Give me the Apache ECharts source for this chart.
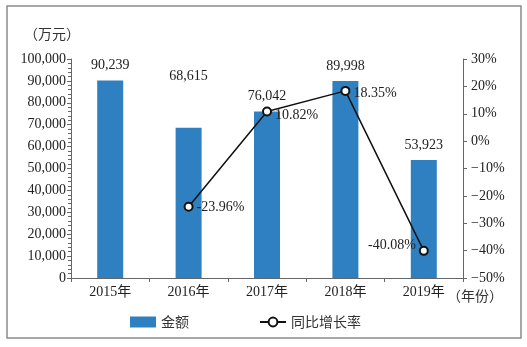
<!DOCTYPE html>
<html><head><meta charset="utf-8">
<script src="https://cdn.jsdelivr.net/npm/echarts@6/dist/echarts.min.js"></script>
<style>html,body{margin:0;padding:0;background:#fff}#c{width:527px;height:347px}</style>
</head><body><div id="c"></div>
<script>
const categories = ['2015年','2016年','2017年','2018年','2019年'];
const amounts = [90239, 68615, 76042, 89998, 53923];
const growth = [null, -23.96, 10.82, 18.35, -40.08];
const leftTicks = {min: 0, max: 100000, interval: 10000};
const rightTicks = {min: -50, max: 30, interval: 10};

const FONT = '"Liberation Serif", "Noto Sans CJK SC", serif';
const fmtNum = v => v.toLocaleString('en-US');

const barLabelDistance = [8, 44, 8, 8, 8];
const lineLabelPos = [null, ['right',[0,1]], ['right',[0,4]], ['right',[0,2]], ['left',[0,-6]]];

const chart = echarts.init(document.getElementById('c'));
chart.setOption({
  animation: false,
  textStyle: {fontFamily: FONT},
  grid: {left: 71, right: 64, top: 59, bottom: 69},
  graphic: [
    {type: 'rect', shape: {x: 7, y: 6, width: 514, height: 332}, style: {fill: 'none', stroke: '#8a8a8a', lineWidth: 1.5}, z: -1},
    {type: 'text', left: 24, top: 27, style: {text: '（万元）', font: '14px "Noto Sans CJK SC"', fill: '#333'}},
    {type: 'text', left: 447, top: 289, style: {text: '（年份）', font: '14px "Noto Sans CJK SC"', fill: '#333'}}
  ],
  legend: {
    left: 125, top: 310, itemGap: 70, itemWidth: 26, itemHeight: 11,
    textStyle: {fontSize: 14, color: '#333', fontFamily: '"Noto Sans CJK SC"'},
    data: [{name: '金额', icon: 'rect'}, {name: '同比增长率'}]
  },
  xAxis: {
    type: 'category', data: categories,
    axisLine: {lineStyle: {color: '#666', width: 1}},
    axisTick: {show: true, length: 4, lineStyle: {color: '#666'}},
    axisLabel: {color: '#222', fontSize: 14, fontFamily: FONT, margin: 7}
  },
  yAxis: [
    {
      type: 'value', min: leftTicks.min, max: leftTicks.max, interval: leftTicks.interval,
      splitLine: {show: false},
      axisLine: {show: true, lineStyle: {color: '#666'}},
      axisTick: {show: true, length: 4, lineStyle: {color: '#666'}},
      minorTick: {show: true, splitNumber: 5, length: 3, lineStyle: {color: '#666'}},
      axisLabel: {color: '#222', fontSize: 14, fontFamily: FONT, margin: 5, formatter: fmtNum}
    },
    {
      type: 'value', min: rightTicks.min, max: rightTicks.max, interval: rightTicks.interval,
      position: 'right',
      splitLine: {show: false},
      axisLine: {show: true, lineStyle: {color: '#666'}},
      axisTick: {show: true, length: 4, lineStyle: {color: '#666'}},
      axisLabel: {color: '#222', fontSize: 14, fontFamily: FONT, margin: 8,
        formatter: v => (v < 0 ? '−' + Math.abs(v) : v) + '%'}
    }
  ],
  series: [
    {
      name: '金额', type: 'bar', barWidth: 26, yAxisIndex: 0,
      itemStyle: {color: '#2f80c1'},
      data: amounts.map((v, i) => ({
        value: v,
        label: {show: true, position: 'top', distance: barLabelDistance[i],
          color: '#222', fontSize: 14, fontFamily: FONT, formatter: p => fmtNum(p.value)}
      }))
    },
    {
      name: '同比增长率', type: 'line', yAxisIndex: 1,
      symbol: 'circle', symbolSize: 8, connectNulls: false,
      lineStyle: {color: '#111', width: 1.5},
      itemStyle: {color: '#fff', borderColor: '#111', borderWidth: 2},
      data: growth.map((v, i) => v == null ? null : ({
        value: v,
        label: {show: true, position: lineLabelPos[i][0], offset: lineLabelPos[i][1], distance: 3,
          color: '#222', fontSize: 14, fontFamily: FONT, formatter: p => p.value.toFixed(2) + '%'}
      }))
    }
  ]
});
</script></body></html>
